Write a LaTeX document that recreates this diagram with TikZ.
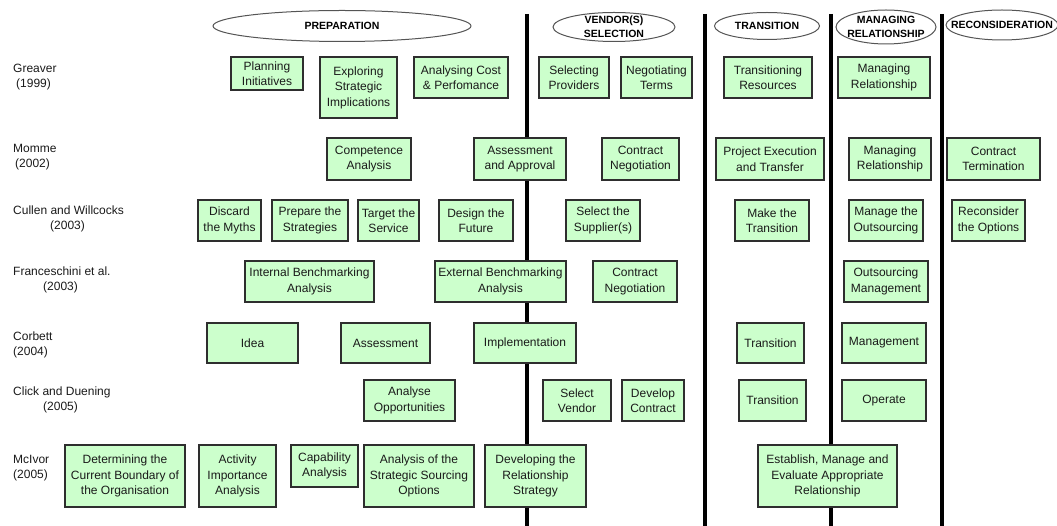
\documentclass[tikz,border=0pt]{standalone}
\usepackage{fontspec}
\setmainfont{Liberation Sans}
\usetikzlibrary{shapes.geometric}
\definecolor{boxfill}{HTML}{CCFFCC}
\definecolor{boxline}{HTML}{2E2E2E}
\definecolor{ink}{HTML}{1A1A1A}
\definecolor{ovalline}{HTML}{555555}

\tikzset{
  stage/.style={draw=boxline, line width=1.2pt, fill=boxfill, text=ink,
    inner sep=0pt, align=center, font=\fontsize{12}{15.5}\selectfont},
  phase/.style={ellipse, draw=ovalline, line width=1pt, fill=white,
    inner sep=0pt},
  phasetext/.style={text=black, inner sep=0pt, align=center,
    font=\bfseries\fontsize{10.5}{13.5}\selectfont},
  author/.style={anchor=west, align=left, text=ink, inner sep=0pt,
    font=\fontsize{12}{15.5}\selectfont},
  divider/.style={line width=3.3pt, black},
}

% \stagebox{name}{x1}{y1}{x2}{y2}{text}: a green activity box between two corners
\newcommand\stagebox[6]{%
  \node[stage, minimum width={(#4-#2)*1pt}, minimum height={(#5-#3)*1pt}]
    (#1) at ({(#2+#4)/2},{(#3+#5)/2}) {#6};}

% \phasehead{name}{cx}{cy}{width}{height}{title}: an oval heading with its title
\newcommand\phasehead[6]{%
  \node[phase, minimum width=#4pt, minimum height=#5pt] (#1) at (#2,#3) {};
  \node[phasetext] (#1 title) at (#1.center) {#6};}

\begin{document}
\begin{tikzpicture}[x=1pt, y=-1pt]
\useasboundingbox (0,0) rectangle (1057,526);

% phase dividers
\foreach \n/\x in {a/527, b/705, c/831, d/942} {
  \coordinate (div\n top) at (\x,14);
  \coordinate (div\n bot) at (\x,526);
  \draw[divider] (div\n top) -- (div\n bot);
}

% phase headings
\phasehead{prep}{342}{26}{258}{31}{PREPARATION}
\phasehead{vend}{614}{27}{122}{29}{VENDOR(S)\\SELECTION}
\phasehead{trans}{767}{26}{105}{27}{TRANSITION}
\phasehead{manag}{886}{27}{100}{34}{MANAGING\\RELATIONSHIP}
\phasehead{recon}{1002}{25}{112}{30}{RECONSIDERATION}

% authors
\node[author] (greaver) at (13,77)  {Greaver\\\hspace*{3pt}(1999)};
\node[author] (momme)   at (13,157) {Momme\\\hspace*{2pt}(2002)};
\node[author] (cullen)  at (13,219) {Cullen and Willcocks\\\hspace*{37pt}(2003)};
\node[author] (franc)   at (13,280) {Franceschini et al.\\\hspace*{30pt}(2003)};
\node[author] (corbett) at (13,345) {Corbett\\(2004)};
\node[author] (click)   at (13,400) {Click and Duening\\\hspace*{30pt}(2005)};
\node[author] (mcivor)  at (13,468) {McIvor\\(2005)};

% Greaver (1999)
\stagebox{g1}{231}{57}{303}{90}{Planning\\Initiatives}
\stagebox{g2}{320}{57}{397}{118}{Exploring\\Strategic\\Implications}
\stagebox{g3}{414}{57}{508}{98}{Analysing Cost\\\& Perfomance}
\stagebox{g4}{539}{57}{609}{98}{Selecting\\Providers}
\stagebox{g5}{621}{57}{692}{98}{Negotiating\\Terms}
\stagebox{g6}{724}{57}{812}{98}{Transitioning\\Resources}
\stagebox{g7}{838}{57}{930}{98}{Managing\\Relationship}

% Momme (2002)
\stagebox{m1}{327}{138}{411}{180}{Competence\\Analysis}
\stagebox{m2}{474}{138}{566}{180}{Assessment\\and Approval}
\stagebox{m3}{602}{138}{679}{180}{Contract\\Negotiation}
\stagebox{m4}{716}{138}{824}{180}{Project Execution\\and Transfer}
\stagebox{m5}{849}{138}{931}{180}{Managing\\Relationship}
\stagebox{m6}{947}{138}{1040}{180}{Contract\\Termination}

% Cullen and Willcocks (2003)
\stagebox{c1}{198}{200}{261}{241}{Discard\\the Myths}
\stagebox{c2}{272}{200}{348}{241}{Prepare the\\Strategies}
\stagebox{c3}{358}{200}{419}{241}{Target the\\Service}
\stagebox{c4}{439}{200}{513}{241}{Design the\\Future}
\stagebox{c5}{566}{200}{640}{241}{Select the\\Supplier(s)}
\stagebox{c6}{735}{200}{809}{241}{Make the\\Transition}
\stagebox{c7}{849}{200}{923}{241}{Manage the\\Outsourcing}
\stagebox{c8}{952}{200}{1025}{241}{Reconsider\\the Options}

% Franceschini et al. (2003)
\stagebox{f1}{245}{261}{374}{302}{Internal Benchmarking\\Analysis}
\stagebox{f2}{435}{261}{566}{302}{External Benchmarking\\Analysis}
\stagebox{f3}{593}{261}{677}{302}{Contract\\Negotiation}
\stagebox{f4}{844}{261}{928}{302}{Outsourcing\\Management}

% Corbett (2004)
\stagebox{b1}{207}{323}{298}{363}{Idea}
\stagebox{b2}{341}{323}{430}{363}{Assessment}
\stagebox{b3}{474}{323}{576}{363}{Implementation}
\stagebox{b4}{737}{323}{804}{363}{Transition}
\stagebox{b5}{842}{323}{926}{363}{Management}

% Click and Duening (2005)
\stagebox{k1}{364}{380}{455}{421}{Analyse\\Opportunities}
\stagebox{k2}{543}{380}{611}{421}{Select\\Vendor}
\stagebox{k3}{622}{380}{684}{421}{Develop\\Contract}
\stagebox{k4}{739}{380}{806}{421}{Transition}
\stagebox{k5}{842}{380}{926}{421}{Operate}

% McIvor (2005)
\stagebox{i1}{65}{445}{185}{507}{Determining the\\Current Boundary of\\the Organisation}
\stagebox{i2}{199}{445}{276}{507}{Activity\\Importance\\Analysis}
\stagebox{i3}{291}{445}{358}{487}{Capability\\Analysis}
\stagebox{i4}{364}{445}{474}{507}{Analysis of the\\Strategic Sourcing\\Options}
\stagebox{i5}{485}{445}{586}{507}{Developing the\\Relationship\\Strategy}
\stagebox{i6}{758}{445}{897}{507}{Establish, Manage and\\Evaluate Appropriate\\Relationship}
\end{tikzpicture}
\end{document}
